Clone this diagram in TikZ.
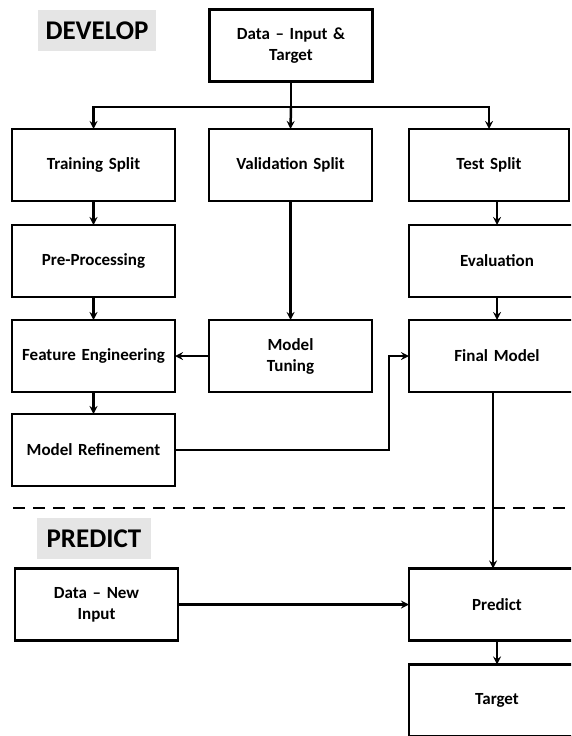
\documentclass[tikz,border=0pt]{standalone}
\usepackage{fontspec}
\setmainfont{Carlito}
\usepackage{tikz}
\usetikzlibrary{shapes,arrows}
\usetikzlibrary{positioning}
\tikzstyle{arrow} = [line width=2.5pt,->,>=stealth]
\tikzstyle{stage} = [
    rectangle, minimum width=163pt, minimum height=72pt, text centered, text width=156pt,
    outer sep=0pt, line width=2.8pt, draw=black, font=\fontsize{17}{21}\selectfont\bfseries]
\tikzstyle{wide} = [minimum width=176pt, text width=168pt]
\tikzstyle{phase} = [
    rectangle, minimum width=118pt, minimum height=41pt, inner sep=0pt,
    fill=black!10, font=\fontsize{27}{32}\selectfont\bfseries]

\begin{document}
\begin{tikzpicture}[x=1pt,y=-1pt]
\useasboundingbox (0,0) rectangle (571,736);
\clip (0,0) rectangle (571,736);

% develop part
\node (develop) [phase] at (97,30.5) {DEVELOP};
\node (data) [stage] at (291,45.5) {Data -- Input \& \\ Target};

\node (training) [stage] at (93.5,165) {Training Split};
\node (validation) [stage, right=34pt of training] {Validation Split};
\node (test) [stage, minimum width=160pt, text width=152pt, right=37pt of validation] {Test Split};

\node (preproc) [stage, below=24pt of training] {Pre-Processing};
\node (features) [stage, below=23pt of preproc] {Feature Engineering};
\node (refinement) [stage, below=22pt of features] {Model Refinement};

\node (tuning) [stage, below=119pt of validation] {Model \\ Tuning};

% right column runs off the edge
\node (evaluation) [stage, wide, below=24pt of test.south west, anchor=north west] {Evaluation};
\node (final) [stage, wide, below=23pt of evaluation] {Final Model};

% predict part
\draw [line width=2.6pt, dash pattern=on 12pt off 8pt] (13,508) -- (571,508);
\node (predictlabel) [phase, minimum width=114pt] at (94,538.5) {PREDICT};
\node (newinput) [stage] at (96.5,604.5) {Data -- New \\ Input};
\node (predict) [stage, wide, below=176.5pt of final] {Predict};
\node (target) [stage, wide, below=24pt of predict] {Target};

% splitting the data
\coordinate (split) at (data.south |- 0,107);
\draw [line width=2.5pt] (data.south) -- (split);
\draw [arrow] (split) -| (training.north);
\draw [arrow] (split) -- (validation.north);
\draw [arrow] (split) -| (test.north);

\draw [arrow] (training) -- (preproc);
\draw [arrow] (preproc) -- (features);
\draw [arrow] (features) -- (refinement);
\draw [arrow] (validation) -- (tuning);
\draw [arrow] (tuning) -- (features);
\draw [arrow] (test.south -| evaluation.north) -- (evaluation.north);
\draw [arrow] (evaluation) -- (final);
\draw [arrow] (refinement.east) -- ++(214,0) |- (final.west);

\draw [arrow] ([xshift=-4pt]final.south) -- ([xshift=-4pt]final.south |- predict.north);
\draw [arrow] (newinput) -- (predict);
\draw [arrow] (predict) -- (target);
\end{tikzpicture}
\end{document}
